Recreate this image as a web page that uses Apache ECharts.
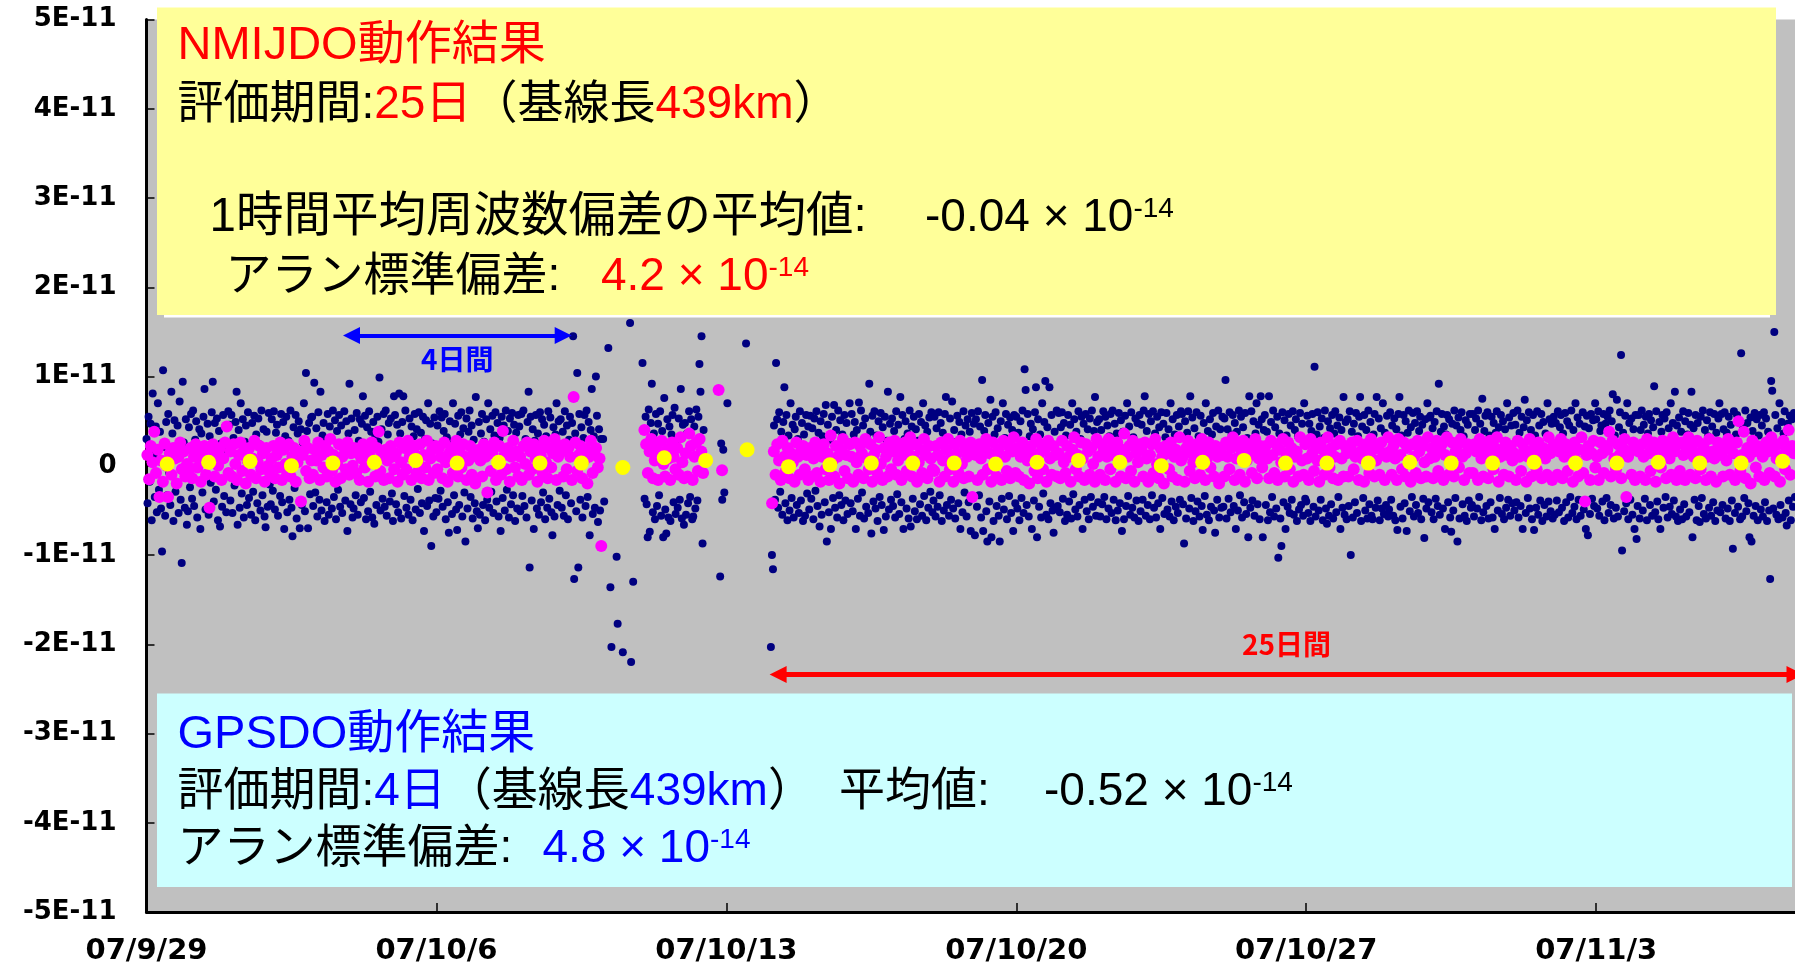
<!DOCTYPE html>
<html>
<head>
<meta charset="utf-8">
<title>NMIJDO / GPSDO</title>
<script src="https://cdn.jsdelivr.net/npm/echarts@6/dist/echarts.min.js"></script>
<style>
  html, body { margin: 0; padding: 0; background: #fff; }
  #chart { width: 1795px; height: 968px; }
</style>
</head>
<body>
<div id="chart"></div>
<script>
// x: days since 07/9/29, y: frequency deviation (values below in units of 1E-13)
const dateLabels = ['07/9/29', '07/10/6', '07/10/13', '07/10/20', '07/10/27', '07/11/3']
const yLabels = ['-5E-11', '-4E-11', '-3E-11', '-2E-11', '-1E-11', '0', '1E-11', '2E-11', '3E-11', '4E-11', '5E-11']

// navy points: 40 samples per day (one every 36 min), null = no data
const navyByDay = [
  [30, -42, 55, -18, 47, -61, 81, 12, -35, 44, -52, 70, -27, 38, -48, -96, 107, 21, -56, 49, -33, 58, -8, -44, 83, 36, -62, 51, -29, 17, 45, -53, 72, -38, -109, 94, 26, -47, 52, -66],
  [-51, 43, -24, 58, -37, 62, -45, 29, 50, -58, 14, 41, -71, 36, -30, 55, 86, -49, 22, 47, -55, 33, -19, 60, 94, -40, 48, -27, 53, -61, 39, -68, 25, -46, 57, -34, 44, -52, 18, 61],
  [46, -39, 57, -53, 31, -22, 49, 83, -66, 40, -47, 70, -31, 52, -58, 27, 45, -44, 60, -36, 19, -55, 48, -29, 56, -61, 35, -42, 53, 24, -50, 62, -33, 41, -57, -69, 38, -46, 59, -21],
  [-43, 52, -28, 61, -49, 37, 46, -56, 23, -34, 58, -41, 49, -71, 33, 55, -52, 28, -38, 62, -47, -79, 43, -25, 57, -59, 36, 50, -70, 41, -44, 26, 70, -51, 104, 39, -70, 48, -32, 54],
  [55, -45, 93, -30, 42, -57, 60, -38, 83, -50, 34, 48, -62, 27, -41, 58, -55, 44, 31, -48, 62, -35, 51, -60, 39, -27, 57, -46, 45, -53, 24, 61, -39, 50, -73, 36, 92, -43, 53, -58],
  [-48, 40, -33, 59, -55, 28, 52, -41, 47, 78, -36, 56, -60, 43, -51, 61, -29, 38, -58, 49, -65, 33, -44, 55, 27, 99, -50, 41, -37, 58, -46, 62, -56, 35, 48, -40, 53, -31, -62, 78],
  [57, -43, 46, -52, 81, 36, -59, 49, 78, -34, 62, -47, 28, -55, 53, -38, 44, -61, 33, 58, -49, 41, -26, 60, -53, 37, -42, 55, -73, 30, 51, -45, 70, -39, 47, -90, 25, -57, 54, -36],
  [-52, 45, -37, 61, -28, 54, -46, 39, 58, -60, 32, -41, -75, 50, 27, -54, 70, -33, 47, -49, -72, 56, -44, 35, 60, -57, 42, -30, -85, 53, -48, 38, 62, -35, 45, -59, 29, -42, 77, -51],
  [-70, 49, -55, 36, 58, -44, 27, -61, 52, -38, 70, -47, 41, -29, 56, -53, 34, 60, -40, 48, -57, 31, -73, 55, -36, 45, -50, 62, -27, 39, -58, 53, -43, 59, -33, 46, -62, 37, -48, 57],
  [44, -51, 58, -34, 62, -45, 30, -58, 49, 83, -114, 55, -39, 41, -71, 28, 57, -48, 36, -55, 60, -41, 52, -30, 46, -60, 33, -47, 61, -37, 54, -52, -78, 43, -57, 35, 70, -44, 50, -28],
  [52, -47, 38, -56, 61, -33, 45, -60, 29, 55, -42, 48, 145, -127, 36, -51, 104, -114, 58, -38, 43, -58, 31, 57, -45, 62, -35, 49, -78, 40, 86, -54, 33, -47, 100, 56, -63, 41, -50, 30],
  [null, 30, -40, null, null, null, 132, null, -136, -203, null, null, null, null, -102, -177, null, null, null, null, -209, null, null, null, null, null, null, 160, -220, null, -130, null, null, null, null, null, null, null, null, 115],
  [41, -37, 55, -43, -80, 63, -74, 48, 92, -52, 36, -60, 58, -45, 47, -33, 61, -56, 39, -80, 76, -49, -76, 52, -58, 44, -62, 35, 57, -41, 65, -54, 30, -47, 53, -38, 86, -59, 46, -66],
  [48, -55, 36, -42, 61, -35, 52, -60, -57, 44, -48, 63, -39, 55, 114, 83, 145, -87, 40, null, null, null, null, null, null, null, null, null, null, null, null, null, null, null, -124, 25, -38, 18, -30, null],
  [null, 70, null, null, null, null, null, null, null, null, null, null, null, null, null, null, null, null, null, 137, null, null, null, null, null, null, null, null, null, null, null, null, null, null, null, null, null, null, null, null],
  [null, null, null, -203, -100, -116, 45, -38, 115, 52, -47, 60, -29, 38, -55, 49, 88, -42, 57, -61, 34, -50, 70, -36, 46, -58, 41, 55, -44, 30, -53, 61, -39, 48, -62, 35, -56, 57, -31, 44],
  [-49, 56, -37, 42, -60, 53, -28, 61, -45, 37, -68, 50, -55, 33, 58, -41, 68, -85, 46, -52, 29, -71, 55, -36, 68, -47, 40, -58, 62, -33, 51, -44, 35, -61, 57, -39, 48, -54, 26, 70],
  [-42, 58, -51, 35, 49, -71, 40, -37, 71, -56, 62, -30, 45, -59, 53, -46, 31, -53, 92, 38, -76, 56, -40, 61, -48, 34, -62, 50, -35, 59, -44, 43, -72, 55, -57, 28, 83, -49, 47, -38],
  [53, -45, 39, -58, 61, -32, 46, -54, 77, -41, 57, -71, 30, 50, -48, 36, -59, 62, -68, 44, -37, 55, -51, 41, -60, 28, 58, -43, 49, -56, 70, -34, 45, -61, 38, -47, 54, -29, 60, -52],
  [-39, 55, -57, 42, -46, 60, -33, 48, -62, 37, -50, 58, 77, -44, 31, -56, 53, -38, 72, -48, 40, -59, 27, 56, -42, 49, -71, 35, -52, 61, -30, 45, -57, 52, -41, 38, -73, 59, -35, 47],
  [-78, 52, -46, 61, -33, 44, -58, 96, -73, 39, 57, -51, -85, 48, -40, 74, -80, 55, -62, 35, 60, -45, 42, -56, -85, 50, -37, 70, -49, 31, 58, -60, 46, -34, 54, -53, 40, -73, 57, -42],
  [55, -48, 37, -61, 50, -36, 62, -53, 108, 85, -44, 58, -57, 33, 47, -71, 41, -39, 60, 88, -80, 52, -46, 35, -58, 70, -31, 49, 95, -55, 43, -60, 88, -42, 57, -50, -75, 38, -47, 62],
  [-45, 59, -52, 43, 60, -37, 48, -62, 34, -55, 57, -40, 46, -59, 70, -32, 52, -49, 38, -57, 61, -44, 30, 55, -71, 47, -38, 58, -51, 41, -60, 53, -35, 62, -46, 39, 77, -56, 49, -41],
  [52, -57, 40, -43, 61, -35, 55, -60, 45, -48, 33, 58, -53, 62, -38, 47, -61, 36, -50, 59, -42, 51, -73, 38, -60, 56, -45, 70, -34, 44, -55, 60, -47, 32, -58, 53, -39, 48, -62, 57],
  [-51, 46, -38, 62, 78, -56, 39, -44, 58, -60, 50, -33, 61, -47, 36, -58, 55, -42, 43, -71, 60, -36, 47, -54, 32, 59, -49, 41, -57, 70, -40, 52, -61, 35, -46, 57, -53, 44, -38, 61],
  [58, -43, -87, 50, -59, 37, 61, -48, 78, -36, 54, -62, 42, -51, 60, -40, 33, -57, 56, -45, -72, 48, -34, 70, -55, 39, -61, 52, -46, 35, 59, -50, -75, 44, -38, 62, -58, 41, -47, 55],
  [-46, 53, 96, -59, 41, -37, 60, -52, 35, 57, -45, 48, -71, 38, -50, 62, -33, 55, -58, 43, -41, 59, -54, 31, -80, 78, -47, 61, -39, 50, -56, 36, 70, -43, 46, -60, 78, 52, -80, 40],
  [57, -44, 38, -61, 78, -52, 49, -35, 62, -57, 43, -48, 55, -103, 36, -59, -90, 60, -41, 51, -71, 34, -46, 58, -53, 45, -38, 61, -55, 40, 52, -62, 33, -49, 59, -44, 47, -56, 70, -37],
  [-40, 56, -53, 47, -62, 39, 58, -46, 111, -57, 35, 60, -50, 44, -38, 53, -61, 31, 62, -48, -65, 50, -56, 42, -43, 57, -59, 36, 61, -52, 45, -35, 54, -71, 40, -47, 77, -55, 49, -60],
  [52, -45, 61, -100, 38, -58, 47, -41, 59, -53, 33, 55, 77, -62, 44, -36, 57, -50, 40, -59, 62, -43, 49, -56, -60, 35, 58, -47, 77, -39, 53, -61, 42, -48, 70, -54, 37, -44, 56, -57],
  [-49, 60, -38, 45, -56, 53, -61, 41, -72, 58, 77, -46, 34, -59, 57, -42, 50, -73, 37, 62, -51, 43, -35, 59, -57, 48, -44, 61, -53, 39, 55, -60, 46, -37, -81, 52, -48, 70, -41, 54],
  [56, -52, 42, -60, 49, -37, 61, -45, 92, -55, 38, 58, -48, 44, -71, 35, 57, -41, 52, -58, -74, 47, -50, 62, -36, 45, -85, 54, -59, 40, 60, -43, 33, -56, 51, -62, 46, -39, 58, -47],
  [-44, 58, -57, 40, 53, -48, 62, -35, 47, -61, 75, -52, 39, 56, -45, 60, -59, 34, -41, 55, -58, 48, -71, 37, 61, -50, 43, -36, 57, -54, 50, -60, 41, -47, 70, -38, 54, -56, 45, -42],
  [59, -50, 46, -41, 62, -58, 37, -45, 55, -71, 43, 74, -53, 51, -36, 60, -48, 40, -60, 57, -72, 34, -47, 61, -55, 45, -39, 58, -62, 49, -44, 36, -57, 70, -40, 52, -51, 47, -59, 55],
  [-55, 48, -39, 61, -52, 43, 57, -47, 36, -62, 59, -41, 50, -58, 45, -35, 62, -53, 40, -46, 70, -60, 54, -38, 47, -56, 33, 60, -49, 44, -71, 56, -78, 42, -54, 58, -37, 51, -45, 70],
  [52, -48, 61, -56, 39, 45, -40, 58, -61, 47, -36, 55, -53, 62, -44, 50, 80, -59, 34, -47, 74, -57, 43, 60, 124, -95, 37, -51, 56, -42, 70, -60, 48, -38, 53, -55, 41, -71, 57, -82],
  [-45, 57, -59, 40, 62, -50, 46, -37, 55, -61, 36, 58, -44, 51, -56, 43, 89, -52, 61, -40, -60, 49, -71, 38, 57, -47, 53, -35, 60, -58, 42, -46, 70, -54, 48, -39, 83, -57, 45, -62],
  [54, -49, 38, -60, 61, -43, 50, -57, 35, 59, -52, 46, 83, -80, 42, -38, 57, -61, 48, -45, -63, 55, -36, 62, -54, 40, -59, 51, 33, -47, 60, -56, 44, -41, 58, -62, 37, -50, 53, 70],
  [-52, 58, -44, 41, 60, -59, 37, -48, 55, -62, 46, -39, -93, 61, -53, 35, 57, -46, 50, -60, 126, -57, 43, -36, 62, -51, 48, -42, -80, 54, -85, 39, -56, 59, -45, 52, -61, 34, 57, -49],
  [45, -57, 60, -41, 53, -62, 38, -50, -127, 95, 84, -48, 150, 57, -55, 42, -60, 70, -44, 49, -58, 36, 61, -53, -67, 47, -39, 56, -61, 52, -46, 59, -35, 44, -58, 50, -42, 62, -56, 40]
]

// magenta points: hourly values, 24 per day
const magentaByDay = [
  [12, -15, 22, 4, 38, -8, 18, -35, 6, -18, 25, 0, -35, 14, -10, 20, 8, -20, 10, 26, -4, 16, -12, 2],
  [-6, 20, -14, 10, 24, -2, 14, -18, 4, 22, -10, 16, -47, 6, 24, -12, 12, 0, 20, -16, 8, 26, 44, -8],
  [16, -12, 24, 2, -16, 12, 26, -6, 18, -20, 6, 20, -10, 8, 28, -14, 4, 22, -4, 14, -18, 20, 0, -8],
  [8, 22, -14, 12, -2, 26, -16, 18, 2, -8, 24, -12, 10, 20, -18, 4, 16, -40, 12, 28, -6, 20, -14, 6],
  [-10, 18, 6, 26, -16, 12, -2, 22, -12, 16, 30, -6, 12, -18, 2, 24, -14, 10, 20, -4, 26, -10, 14, 0],
  [20, -8, 14, -16, 8, 24, -2, 16, -18, 10, 26, 4, -12, 20, 38, -6, 12, -16, 18, 6, -14, 22, 10, -4],
  [14, -18, 26, 4, -10, 20, -4, 28, 10, -16, 16, 22, -8, 2, 24, -14, 12, -2, 28, -16, 8, 18, -8, 22],
  [-4, 20, 10, -14, 26, 4, -18, 14, 20, -8, 8, 28, -12, 18, -2, 24, 10, -16, 6, 22, -10, 16, -20, 10],
  [18, 6, -12, 24, 10, -30, 20, -6, 14, 26, -16, 4, 22, -10, 39, 12, -4, 20, -18, 10, 28, -2, 16, -12],
  [10, -16, 22, 2, 26, -10, 16, -4, 24, 8, -18, 18, 12, -8, 28, 4, -14, 20, -2, 14, 30, -16, 10, 22],
  [16, -12, 24, -4, 20, 10, -16, 77, 26, -6, 12, 22, -14, 6, 18, -20, 10, 28, -8, 14, 20, -2, 8, -90],
  [],
  [40, 24, -8, 16, 30, -14, 6, 22, -16, 12, 28, 2, -12, 18, 8, -16, 26, 10, -4, 20, -10, 32, 4, -14],
  [14, -12, 36, 22, -16, 10, 26, -6, 30, 16, -8, null, null, null, null, null, null, null, null, 85, null, -5, null, null],
  [],
  [null, null, -42, 16, -10, 24, 6, -16, 28, 10, -6, 20, -14, 14, 4, -18, 26, 10, -10, 18, 22, -4, 12, -16],
  [20, -12, 8, 26, -8, 16, -18, 10, 24, -4, 14, -16, 34, 6, -12, 22, 10, -20, 18, 30, -6, 12, -14, 24],
  [10, -18, 26, 4, -10, 22, 14, -14, 30, 8, -4, 24, -18, 12, 18, -8, 32, 2, -16, 20, 10, -12, 26, -4],
  [16, 28, -10, 6, 22, -16, 12, 26, -6, 20, 32, -12, 10, 24, -18, 4, 18, -8, 30, 12, -14, 22, 8, -4],
  [-6, 22, 12, -18, 26, 6, -12, 18, 30, -4, 10, -18, 24, 14, -8, 28, 2, -14, 20, 10, -12, 26, -35, 16],
  [12, -16, 24, 8, -10, 20, 30, -4, 14, -18, 26, 4, -12, 18, 10, -16, 28, 10, -6, 22, -14, 16, 32, -8],
  [20, -12, 10, 26, -16, 16, 6, -20, 22, 12, -6, 30, -14, 14, 24, -4, 18, -18, 28, 8, -10, 22, 12, -12],
  [14, -14, 28, 4, -8, 22, 10, -18, 18, 32, -4, 12, -12, 26, 8, -16, 24, 16, -10, 20, 2, -18, 30, 10],
  [-10, 24, 16, -16, 10, 30, -4, 20, 12, -18, 26, 6, -12, 18, 36, -14, 10, 22, -6, 28, -18, 14, 4, 24],
  [18, -12, 26, 8, -18, 12, 24, -8, 30, 2, -14, 20, 10, -20, 22, 14, -4, 26, -12, 10, 18, -16, 32, 6],
  [10, -18, 20, 28, -6, 14, 4, -14, 24, 12, -10, 30, 18, -16, 8, 26, -2, 16, -12, 22, 10, -20, 20, 12],
  [-12, 26, 10, -4, 20, 32, -16, 8, 22, -10, 16, 28, -18, 6, 24, 12, -8, 18, 30, -14, 8, 22, -2, 14],
  [22, 8, -14, 28, 12, -8, 24, -16, 18, 4, 30, -12, 14, 26, -4, 20, -18, 10, 16, -12, 32, 6, -10, 24],
  [8, -16, 30, 14, -6, 22, 6, -18, 26, 18, -10, 12, 32, -2, 20, -14, 10, 24, -16, 28, 8, -12, 22, 14],
  [-12, 20, 26, -4, 10, 28, -16, 16, 8, -18, 24, 12, -8, 30, 18, -12, 6, 22, -10, 26, 14, -16, 10, 32],
  [16, -10, 22, 8, -16, 30, 12, -4, 26, -12, 20, 6, -18, 24, 10, -8, 28, 16, -14, 22, 4, -12, 32, 8],
  [20, -14, 10, 28, -6, 18, 24, -16, 12, 32, -10, 6, 26, -12, 16, 22, -2, 30, 10, -16, 14, 24, -8, 20],
  [-8, 24, 16, -16, 30, 8, -12, 22, 14, -14, 28, 10, -4, 20, 32, -18, 10, 18, -10, 26, 12, -12, 22, 6],
  [14, -16, 28, 10, -6, 24, 18, -18, 10, 30, -12, 16, 22, -4, 26, 12, -14, 20, 8, -10, 32, 14, -16, 24],
  [22, -10, 16, 30, -14, 10, 24, -6, 20, 12, -18, 26, 6, -12, 18, 32, -8, -40, 12, 22, -16, 14, 28, -2],
  [10, -16, 26, 14, -8, 22, 18, 38, -12, 28, 8, -4, 24, 12, -14, 20, 30, -35, 10, 16, -10, 26, -16, 22],
  [16, -12, 24, 10, -16, 30, 14, -6, 20, 26, -18, 10, 18, -2, 28, 12, -14, 22, 8, -10, 32, 16, -16, 24],
  [-6, 26, 12, -16, 18, 32, -10, 22, 10, -14, 28, 14, -4, 24, 20, -16, 10, 30, -12, 16, 8, -18, 26, 12],
  [22, -12, 18, 6, 30, -10, 24, 14, -16, 26, 50, -6, 12, 38, -14, 20, 10, -20, 28, 16, -2, 22, -12, 18],
  [10, -16, 26, 16, -8, 32, 20, -12, 8, 24, -18, 12, 28, -4, 18, 40, -10, 22, 14, -14, 26, 10, -16, 24]
]

// yellow points: daily mean, plotted at noon of each day
const dailyMean = [2, 4, 5, 0, 3, 4, 6, 3, 4, 3, 3, -2, 9, 6, 18, -1, 1, 3, 3, 3,
  2, 4, 6, 4, 0, 4, 6, 3, 3, 3, 4, 3, 3, 4, 3, 3, 4, 3, 3, 5]

// annotation arrows (day range, level in 1E-12)
const gpsSpan = [4.95, 10.06]
const gpsLevel = 14.6
const nmijSpan = [15.25, 39.8]
const nmijLevel = -23.4

const FONT_JP = '"Noto Sans CJK JP", "Noto Sans CJK SC", sans-serif'
const FONT_BOX = '"Liberation Sans", "Noto Sans CJK JP", sans-serif'
const FONT_AX = '"DejaVu Sans", sans-serif'

function toPoints(byDay, perDay, offset) {
  const out = []
  byDay.forEach((vals, d) => {
    vals.forEach((v, i) => {
      if (v !== null) out.push([d + (i + offset) / perDay, v / 10])
    })
  })
  return out
}

const navyData = toPoints(navyByDay, 40, 0)
const magentaData = toPoints(magentaByDay, 24, 0.5)
const yellowData = dailyMean.map((v, d) => [d + 0.5, v / 10])

// text helpers for the two boxes
const rich = {
  r: { fill: '#FF0000', font: '46px ' + FONT_BOX },
  b: { fill: '#0000FF', font: '46px ' + FONT_BOX },
  sup: { fill: '#000', font: '28px ' + FONT_BOX, verticalAlign: 'top' },
  rsup: { fill: '#FF0000', font: '28px ' + FONT_BOX, verticalAlign: 'top' },
  bsup: { fill: '#0000FF', font: '28px ' + FONT_BOX, verticalAlign: 'top' }
}
function label(x, y, text, color, size) {
  return {
    type: 'text',
    x: x,
    y: y,
    z: 102,
    silent: true,
    style: {
      text: text,
      fill: color || '#000',
      font: (size || 46) + 'px ' + FONT_BOX,
      verticalAlign: 'middle',
      rich: rich
    }
  }
}

const chart = echarts.init(document.getElementById('chart'))

const option = {
  animation: false,
  backgroundColor: '#fff',
  grid: {
    left: 146.5,
    right: 0,
    top: 19.5,
    bottom: 56,
    show: true,
    backgroundColor: '#C0C0C0',
    borderWidth: 0
  },
  xAxis: {
    type: 'value',
    min: 0,
    max: 39.8,
    interval: 7,
    splitLine: { show: false },
    axisLine: { show: true, onZero: false, lineStyle: { color: '#000', width: 3 } },
    axisTick: { show: true, inside: true, length: 9, lineStyle: { color: '#000', width: 1.5 } },
    axisLabel: {
      showMaxLabel: false,
      margin: 25,
      color: '#000',
      fontFamily: FONT_AX,
      fontWeight: 'bold',
      fontSize: 29,
      formatter: v => (v % 7 === 0 ? dateLabels[v / 7] : '')
    }
  },
  yAxis: {
    type: 'value',
    min: -50,
    max: 50,
    interval: 10,
    splitLine: { show: false },
    axisLine: { show: true, onZero: false, lineStyle: { color: '#000', width: 3 } },
    axisTick: { show: true, inside: true, length: 8, lineStyle: { color: '#000', width: 1.5 } },
    axisLabel: {
      margin: 30,
      color: '#000',
      fontFamily: FONT_AX,
      fontWeight: 'bold',
      fontSize: 26,
      formatter: v => yLabels[Math.round((v + 50) / 10)]
    }
  },
  series: [
    {
      name: 'navy',
      type: 'scatter',
      data: navyData,
      symbol: 'circle',
      symbolSize: 8,
      itemStyle: { color: '#000080', opacity: 1 },
      silent: true
    },
    {
      name: 'magenta',
      type: 'scatter',
      data: magentaData,
      symbol: 'circle',
      symbolSize: 12,
      itemStyle: { color: '#FF00FF', opacity: 1 },
      silent: true
    },
    {
      name: 'daily',
      type: 'scatter',
      data: yellowData,
      symbol: 'circle',
      symbolSize: 15,
      itemStyle: { color: '#FFFF00', opacity: 1 },
      silent: true,
      markLine: {
        silent: true,
        symbol: ['triangle', 'triangle'],
        symbolSize: 17,
        precision: 3,
        data: [
          [
            {
              coord: [gpsSpan[0], gpsLevel],
              lineStyle: { color: '#0000FF', width: 4, type: 'solid' },
              itemStyle: { color: '#0000FF' },
              label: {
                show: true,
                formatter: '4日間',
                position: 'insideMiddleBottom',
                distance: 10,
                color: '#0000FF',
                fontFamily: FONT_JP,
                fontWeight: 'bold',
                fontSize: 28
              }
            },
            { coord: [gpsSpan[1], gpsLevel] }
          ],
          [
            {
              coord: [nmijSpan[0], nmijLevel],
              lineStyle: { color: '#FF0000', width: 5, type: 'solid' },
              itemStyle: { color: '#FF0000' },
              label: {
                show: true,
                formatter: '25日間',
                position: 'insideMiddleTop',
                distance: 16,
                color: '#FF0000',
                fontFamily: FONT_JP,
                fontWeight: 'bold',
                fontSize: 28
              }
            },
            { coord: [nmijSpan[1], nmijLevel] }
          ]
        ]
      }
    }
  ],
  graphic: {
    elements: [
      // NMIJDO box
      { type: 'rect', z: 100, silent: true, shape: { x: 164, y: 15, width: 1606, height: 302.5 }, style: { fill: '#FFFFFF' } },
      { type: 'rect', z: 101, silent: true, shape: { x: 157, y: 7.5, width: 1619, height: 307.5 }, style: { fill: '#FFFF99' } },
      label(177.5, 46, 'NMIJDO動作結果', '#FF0000', 47),
      label(177.5, 105, '評価期間:{r|25日}（基線長{r|439km}）'),
      label(209.5, 218, '1時間平均周波数偏差の平均値:', '#000', 47.5),
      label(925, 218, '-0.04 × 10{sup|-14}'),
      label(225.5, 277, 'アラン標準偏差:'),
      label(601, 277, '{r|4.2 × 10}{rsup|-14}'),
      // GPSDO box
      { type: 'rect', z: 101, silent: true, shape: { x: 157, y: 693.5, width: 1635, height: 193.5 }, style: { fill: '#CCFFFF' } },
      label(177.5, 735, 'GPSDO動作結果', '#0000FF', 47),
      label(177.5, 792, '評価期間:{b|4日}（基線長{b|439km}）'),
      label(839, 792, '平均値:'),
      label(1044, 792, '-0.52 × 10{sup|-14}'),
      label(177.5, 849.5, 'アラン標準偏差:'),
      label(542.5, 849.5, '{b|4.8 × 10}{bsup|-14}')
    ]
  }
}

chart.setOption(option)
</script>
</body>
</html>
